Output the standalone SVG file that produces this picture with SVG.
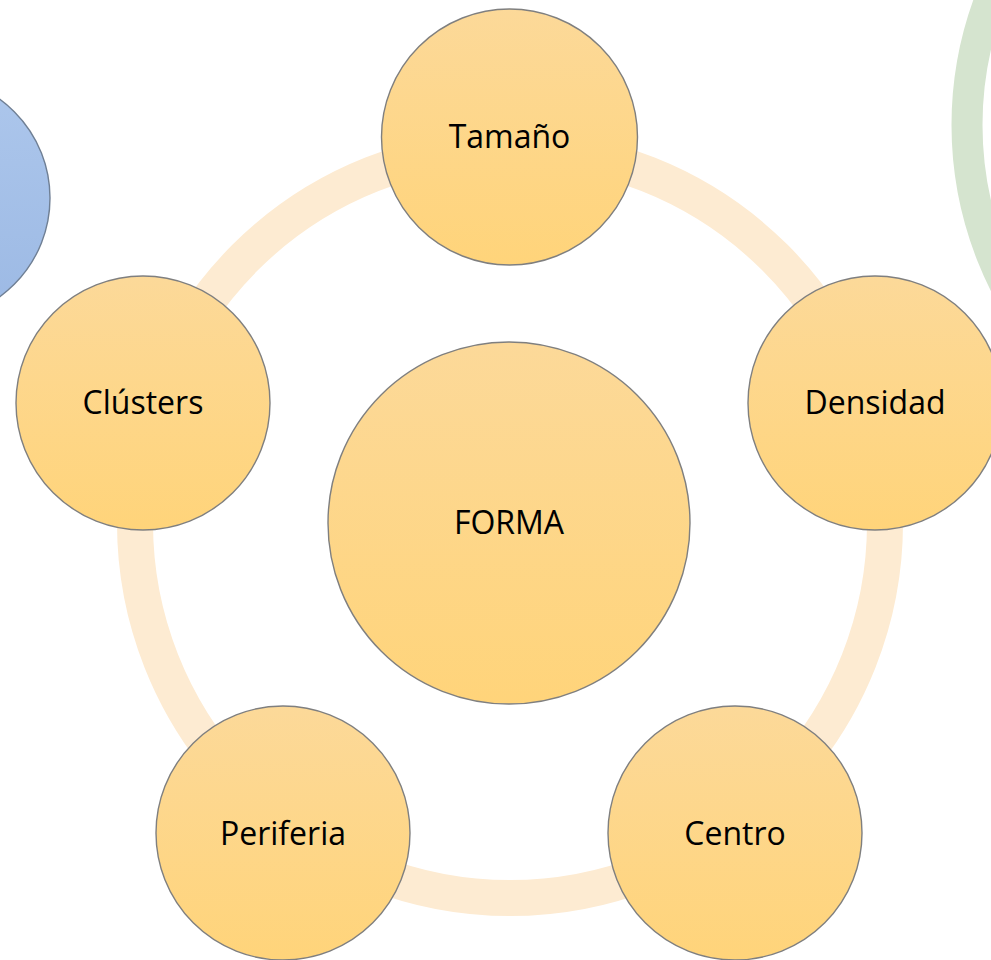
<svg xmlns="http://www.w3.org/2000/svg" width="991" height="960" viewBox="0 0 991 960">
<defs>
<linearGradient id="gold" x1="0" y1="0" x2="0" y2="1">
<stop offset="0" stop-color="#FCD999"/>
<stop offset="1" stop-color="#FFD47A"/>
</linearGradient>
<linearGradient id="blue" x1="0" y1="0" x2="0" y2="1">
<stop offset="0" stop-color="#ADC7EC"/>
<stop offset="1" stop-color="#9CB9E4"/>
</linearGradient>
<style>
.node{fill:url(#gold);stroke:#7F7F7F;stroke-width:1.4}
.lbl{font-family:"Open Sans","Liberation Sans",sans-serif;font-size:32px;fill:#000;text-anchor:middle}
</style>
</defs>
<rect width="991" height="960" fill="#fff"/>
<g id="background">
<circle cx="1321" cy="125" r="354" fill="none" stroke="#D5E4CF" stroke-width="31"/>
<circle cx="-72" cy="198" r="122" fill="url(#blue)" stroke="#6F7F94" stroke-width="1.4"/>
</g>
<g id="connectors">
<circle cx="510" cy="523" r="375" fill="none" stroke="#FDEBD2" stroke-width="36"/>
</g>
<g id="node-forma"><circle class="node" cx="509" cy="523" r="181"/><text class="lbl" x="509" y="534">FORMA</text></g>
<g id="node-tamano"><circle class="node" cx="509.5" cy="137" r="128"/><text class="lbl" x="509.5" y="148">Tamaño</text></g>
<g id="node-densidad"><circle class="node" cx="875" cy="403" r="127"/><text class="lbl" x="875" y="414">Densidad</text></g>
<g id="node-clusters"><circle class="node" cx="143" cy="403" r="127"/><text class="lbl" x="143" y="414">Clústers</text></g>
<g id="node-periferia"><circle class="node" cx="283" cy="833" r="127"/><text class="lbl" x="283" y="845">Periferia</text></g>
<g id="node-centro"><circle class="node" cx="735" cy="833" r="127"/><text class="lbl" x="735" y="845">Centro</text></g>
</svg>
